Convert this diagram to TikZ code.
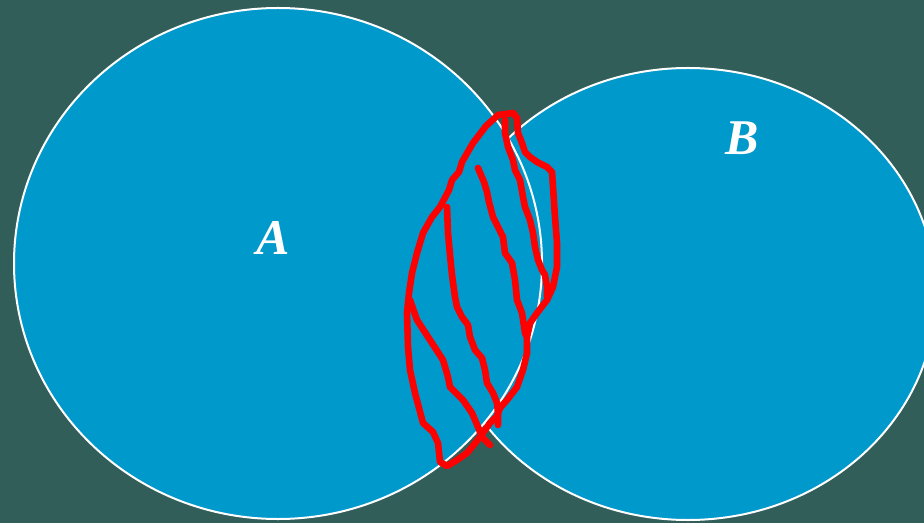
\documentclass[tikz,border=0pt]{standalone}
\usepackage{fontspec}
\setmainfont{Liberation Serif}
\definecolor{slidebg}{RGB}{50,94,90}
\definecolor{setblue}{RGB}{0,153,204}
\definecolor{inkred}{RGB}{255,0,0}
\usetikzlibrary{shapes.geometric}

\begin{document}
\begin{tikzpicture}[
    x=0.5pt, y=-0.5pt,
    setshape/.style={ellipse, draw=white, line width=1pt, fill=setblue, inner sep=0pt},
    setlabel/.style={text=white, font=\fontsize{25}{30}\selectfont\bfseries\itshape},
    ink/.style={draw=inkred, line width=3.3pt, line cap=round, line join=round}
]
    \fill[slidebg] (0,0) rectangle (924,523);
    \useasboundingbox (0,0) rectangle (924,523);

    \node[setshape, minimum width=248pt, minimum height=226pt] (setB) at (688,294) {};
    \node[setshape, minimum width=264pt, minimum height=255.5pt] (setA) at (278,263.5) {};

    \node[setlabel] (labA) at (273,238) {A};
    \node[setlabel] (labB) at (742,138) {B};

    % hand drawn shading of the overlap
    \draw[ink] (513,113) -- (498,115) -- (486,126) -- (473,143) -- (462,162) -- (459,172)
        -- (452,180) -- (449,190) -- (440,207) -- (432,217) -- (423,233) -- (417,253)
        -- (412,273) -- (409,293) -- (407,313) -- (408,347) -- (410,370) -- (415,393)
        -- (423,423) -- (433,432) -- (438,443) -- (440,462) -- (447,466) -- (457,460)
        -- (467,453) -- (472,447) -- (480,437) -- (485,430) -- (490,423) -- (497,416)
        -- (500,408) -- (507,400) -- (517,387) -- (523,370) -- (527,353) -- (527,337)
        -- (530,323) -- (537,313) -- (547,300) -- (553,287) -- (557,267) -- (557,243)
        -- (555,217) -- (553,187) -- (552,172) -- (547,167) -- (537,162) -- (530,157)
        -- (525,152) -- (522,143) -- (518,133) -- (517,118) -- (513,113);
    \draw[ink] (505,120) -- (505,133) -- (508,147) -- (513,160) -- (515,170) -- (520,180)
        -- (523,197) -- (525,207) -- (530,220) -- (533,233) -- (535,247) -- (538,260)
        -- (542,270) -- (545,275) -- (547,287) -- (547,297);
    \draw[ink] (478,168) -- (484,182) -- (487,192) -- (489,202) -- (493,217) -- (498,227)
        -- (503,237) -- (505,253) -- (512,263) -- (515,280) -- (517,300) -- (522,313)
        -- (525,333) -- (527,337);
    \draw[ink] (447,207) -- (448,233) -- (450,255) -- (452,275) -- (455,297) -- (457,307)
        -- (462,317) -- (468,325) -- (470,337) -- (475,350) -- (482,358) -- (485,370)
        -- (487,383) -- (493,393) -- (497,403) -- (498,413) -- (498,425);
    \draw[ink] (410,300) -- (417,320) -- (430,340) -- (443,360) -- (448,377) -- (450,387)
        -- (463,400) -- (472,413) -- (478,427) -- (482,437) -- (490,445);
\end{tikzpicture}
\end{document}
